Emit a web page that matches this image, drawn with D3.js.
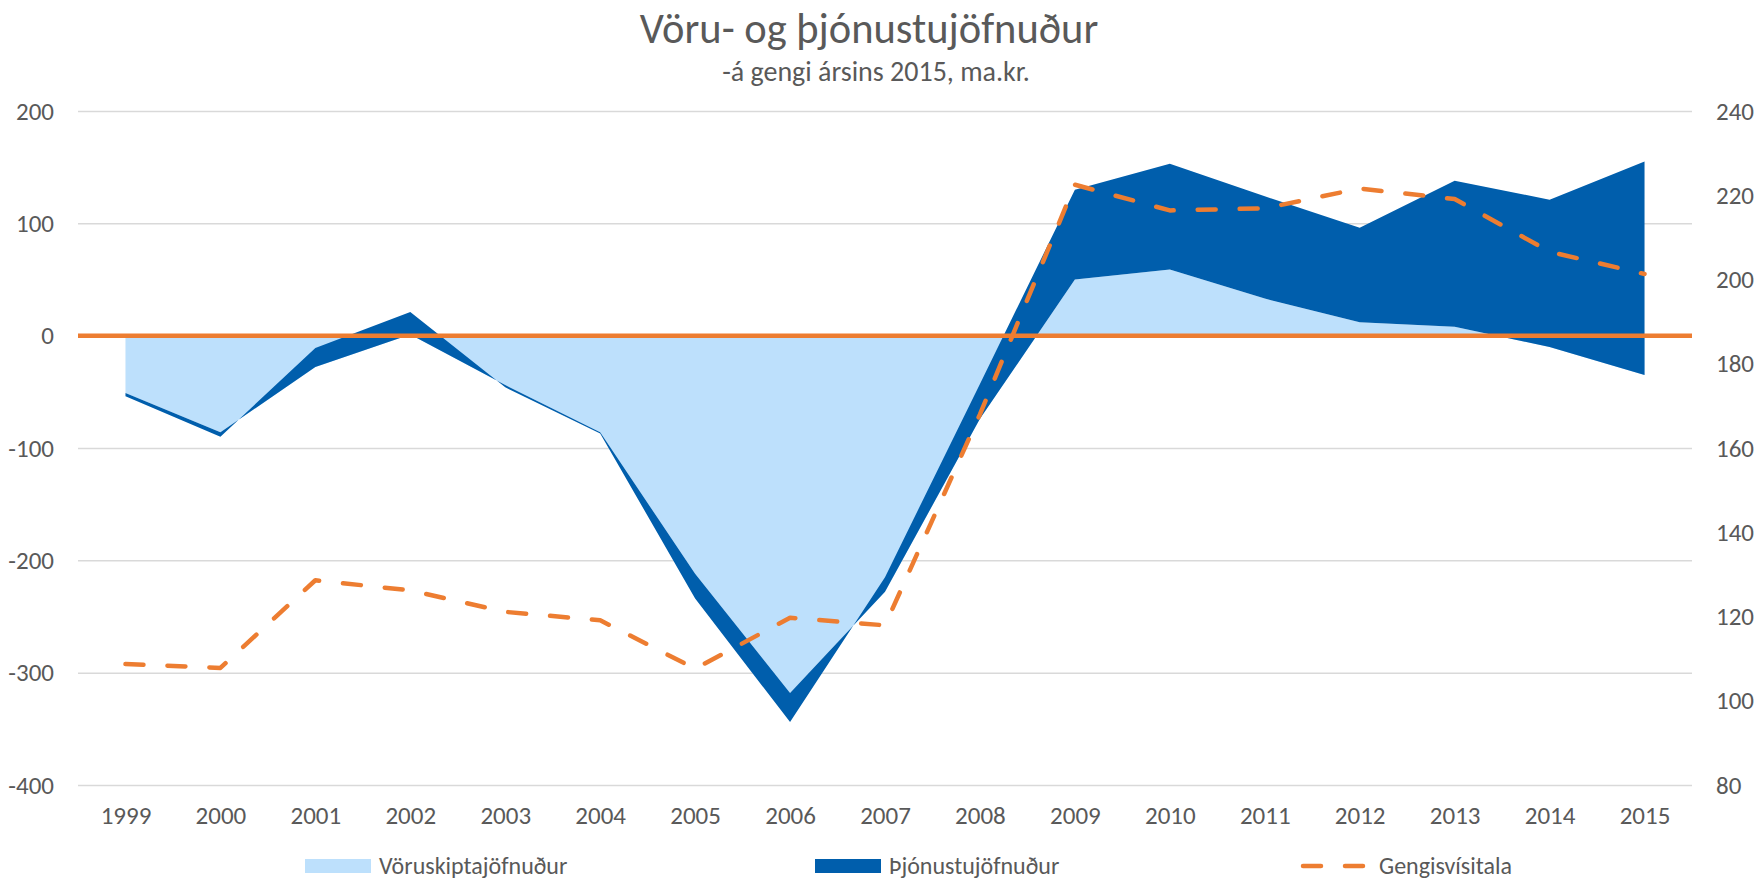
<!DOCTYPE html>
<meta charset="utf-8">
<script src="https://cdn.jsdelivr.net/npm/d3@7"></script>
<style>
    body { margin: 0; background: #fff; }
    text { font-family: Carlito, Calibri, "Open Sans", sans-serif; fill: #595959; }
</style>
<svg width="1757" height="879"></svg>
<script>
    // values (ma.kr. / index)
    var years = [1999, 2000, 2001, 2002, 2003, 2004, 2005, 2006, 2007, 2008, 2009, 2010, 2011, 2012, 2013, 2014, 2015];
    var goods = [-51, -86, -28, 1, -44, -86, -212, -318, -228, -74, 50, 59, 33, 12, 8, -10, -35];
    var services = [-3, -4, 17, 20, -2, -1, -22, -26, 13, 31, 80, 94, 91, 84, 130, 131, 190];
    var rate = [108.7, 107.8, 128.6, 126.2, 121.1, 119.1, 107.6, 119.7, 117.9, 168, 222.5, 216.4, 216.9, 221.6, 219.1, 206.6, 201.3];

    var leftTicks = [200, 100, 0, -100, -200, -300, -400];
    var rightTicks = [240, 220, 200, 180, 160, 140, 120, 100, 80];

    var names = ["Vöruskiptajöfnuður", "Þjónustujöfnuður", "Gengisvísitala"];
    var colors = ["#bde0fc", "#005eac", "#ed7d31"];

    var svg = d3.select("svg"),
        plotLeft = 78, plotRight = 1692, plotTop = 111, plotBottom = 785;

    var x = d3.scalePoint().domain(years).range([plotLeft, plotRight]).padding(0.5);
    var y = d3.scaleLinear().domain([-400, 200]).range([plotBottom, plotTop]);
    var y2 = d3.scaleLinear().domain([80, 240]).range([plotBottom, plotTop]);

    // title
    svg.append("text").attr("x", 869).attr("y", 43).attr("text-anchor", "middle")
        .style("font-size", "42.5px").text("Vöru- og þjónustujöfnuður");
    svg.append("text").attr("x", 876).attr("y", 81).attr("text-anchor", "middle")
        .style("font-size", "28px").text("-á gengi ársins 2015, ma.kr.");

    // gridlines
    svg.append("g")
        .attr("transform", "translate(" + plotLeft + ",0)")
        .call(d3.axisLeft(y).tickValues(leftTicks).tickSize(-(plotRight - plotLeft)).tickFormat(""))
        .call(function (g) {
            g.select(".domain").remove();
            g.selectAll("line").attr("stroke", "#d9d9d9").attr("stroke-width", 1.5);
        });

    // stacked areas, like excel
    var rows = years.map(function (yr, i) {
        return {year: yr, goods: goods[i], services: services[i]};
    });
    var stacked = d3.stack().keys(["goods", "services"])(rows);

    var area = d3.area()
        .x(function (d) { return x(d.data.year); })
        .y0(function (d) { return y(d[0]); })
        .y1(function (d) { return y(d[1]); });

    svg.append("g").selectAll("path")
        .data(stacked)
        .enter().append("path")
        .attr("d", area)
        .attr("fill", function (d, i) { return colors[i]; });

    // zero line
    svg.append("line")
        .attr("x1", plotLeft).attr("x2", plotRight)
        .attr("y1", y(0)).attr("y2", y(0))
        .attr("stroke", colors[2]).attr("stroke-width", 4.5);

    // exchange rate index, right axis
    var line = d3.line()
        .x(function (d, i) { return x(years[i]); })
        .y(function (d) { return y2(d); });

    svg.append("path")
        .datum(rate)
        .attr("d", line)
        .attr("fill", "none")
        .attr("stroke", colors[2])
        .attr("stroke-width", 4.5)
        .attr("stroke-linecap", "round")
        .attr("stroke-linejoin", "round")
        .attr("stroke-dasharray", "18,24");

    // axis labels
    svg.append("g")
        .attr("transform", "translate(" + (plotLeft - 21) + ",0)")
        .call(d3.axisLeft(y).tickValues(leftTicks).tickSize(0).tickFormat(function (d) { return String(d); }))
        .call(function (g) {
            g.select(".domain").remove();
            g.selectAll("text").style("font-size", "25px").attr("fill", "#595959");
        });

    svg.append("g")
        .attr("transform", "translate(" + (plotRight + 21) + ",0)")
        .call(d3.axisRight(y2).tickValues(rightTicks).tickSize(0).tickFormat(function (d) { return String(d); }))
        .call(function (g) {
            g.select(".domain").remove();
            g.selectAll("text").style("font-size", "25px").attr("fill", "#595959");
        });

    svg.append("g")
        .attr("transform", "translate(0," + (plotBottom + 18) + ")")
        .call(d3.axisBottom(x).tickSize(0).tickFormat(function (d) { return String(d); }))
        .call(function (g) {
            g.select(".domain").remove();
            g.selectAll("text").style("font-size", "25px").attr("fill", "#595959");
        });

    // legend
    var legendX = [305, 815, 1300];
    var legend = svg.append("g").selectAll("g")
        .data(names)
        .enter().append("g")
        .attr("transform", function (d, i) { return "translate(" + legendX[i] + ",866)"; });

    legend.filter(function (d, i) { return i < 2; })
        .append("rect")
        .attr("x", 0).attr("y", -7).attr("width", 66).attr("height", 14)
        .attr("fill", function (d, i) { return colors[i]; });

    legend.filter(function (d, i) { return i == 2; })
        .append("line")
        .attr("x1", 3).attr("x2", 63).attr("y1", 0).attr("y2", 0)
        .attr("stroke", colors[2]).attr("stroke-width", 4.5)
        .attr("stroke-linecap", "round")
        .attr("stroke-dasharray", "18,24");

    legend.append("text")
        .attr("x", function (d, i) { return i == 2 ? 79 : 74; })
        .attr("y", 8)
        .style("font-size", "24px")
        .text(function (d) { return d; });
</script>
